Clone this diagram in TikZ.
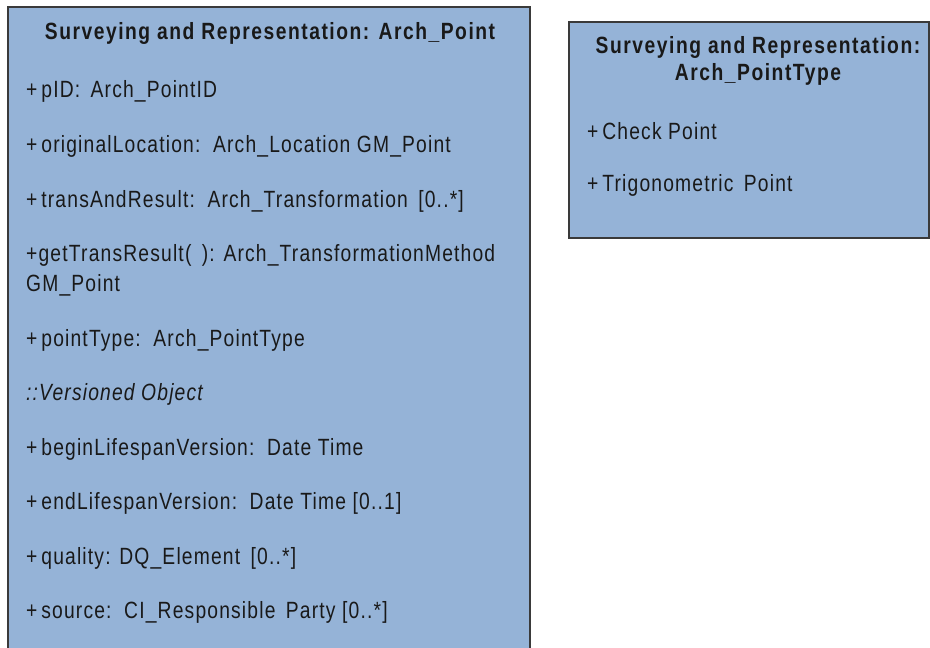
\documentclass[tikz,border=0pt]{standalone}
\usepackage{fontspec}
\setmainfont[FakeStretch=0.82,LetterSpace=5,BoldFeatures={LetterSpace=6.5}]{Liberation Sans}
\definecolor{boxfill}{HTML}{95B3D7}
\definecolor{boxline}{HTML}{3A3A3A}
\begin{document}
\begin{tikzpicture}[x=1pt,y=-1pt,
  classbox/.style={draw=boxline,line width=1.6pt,fill=boxfill},
  attr/.style={anchor=west,inner sep=0pt,font=\fontsize{23.5}{27}\selectfont,text=black!90},
  ttl/.style={anchor=center,inner sep=0pt,font=\fontsize{23.5}{27}\selectfont\bfseries,align=center,text=black!90}]
\useasboundingbox (0,0) rectangle (930,648);
\clip (0,0) rectangle (930,648);
\path[classbox] (8,7) rectangle (530,670);
\node[coordinate] (leftbox) at (269,330) {};
\path[classbox] (569,22) rectangle (929,238);
\node[coordinate] (rightbox) at (749,130) {};
\node[ttl] (t1) at (270,33) {Surveying and Representation: Arch\_Point};
\node[attr] (a1) at (26,91) {+\,pID: \,Arch\_PointID};
\node[attr] (a2) at (26,146) {+\,originalLocation: \,Arch\_Location GM\_Point};
\node[attr] (a3) at (26,201) {+\,transAndResult: \,Arch\_Transformation \,[0..*]};
\node[attr] (a4) at (26,255) {+getTransResult( \,): Arch\_TransformationMethod};
\node[attr] (a4b) at (26,285) {GM\_Point};
\node[attr] (a5) at (26,340) {+\,pointType: \,Arch\_PointType};
\node[attr] (a6) at (26,394) {\itshape ::Versioned Object};
\node[attr] (a7) at (26,449) {+\,beginLifespanVersion: \,Date Time};
\node[attr] (a8) at (26,503) {+\,endLifespanVersion: \,Date Time [0..1]};
\node[attr] (a9) at (26,558) {+\,quality: DQ\_Element \,[0..*]};
\node[attr] (a10) at (26,612) {+\,source: \,CI\_Responsible \,Party [0..*]};
\node[ttl] (t2) at (758,61) {Surveying and Representation:\\Arch\_PointType};
\node[attr] (b1) at (587,131) {+\,Check Point};
\node[attr] (b2) at (587,185) {+\,Trigonometric \,Point};
\end{tikzpicture}
\end{document}
